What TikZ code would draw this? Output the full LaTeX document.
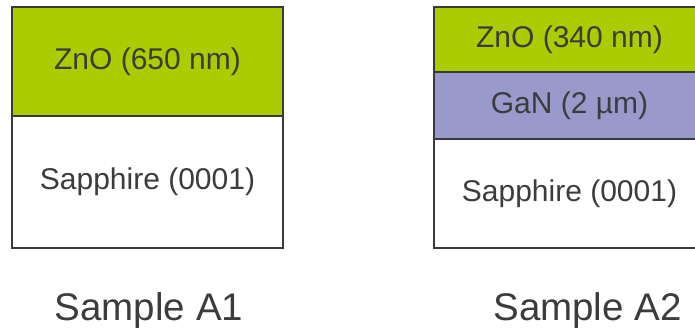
\documentclass[tikz,border=0pt]{standalone}
\usepackage{fontspec}
\setmainfont{Liberation Sans}
\definecolor{zno}{HTML}{AACC00}
\definecolor{gan}{HTML}{9999CC}
\definecolor{txt}{HTML}{3C3C3C}
\definecolor{edge}{HTML}{3A3A3A}
\begin{document}
\begin{tikzpicture}[x=1pt,y=1pt,
  layer/.style={draw=edge, line width=1.3pt, minimum width=271pt, inner sep=0pt, outer sep=0pt, text=txt, font=\fontsize{30}{30}\selectfont},
  caption/.style={anchor=base, text=txt, inner sep=0pt, font=\fontsize{38.5}{38.5}\selectfont}]
\useasboundingbox (0,0) rectangle (695,329);
\clip (0,0) rectangle (695,329);
% Sample A1
\node[layer, fill=white, minimum height=132pt] (sapA) at (147.5,147) {Sapphire (0001)};
\node[layer, fill=zno, minimum height=109pt] (znoA) at (147.5,267.5) {ZnO (650 nm)};
% Sample A2
\node[layer, fill=white, minimum height=109pt] (sapB) at (569.5,135.5) {Sapphire (0001)};
\node[layer, fill=gan, minimum height=67pt] (ganB) at (569.5,223.5) {GaN (2 µm)};
\node[layer, fill=zno, minimum height=65pt] (znoB) at (569.5,289.5) {ZnO (340 nm)};
% captions
\node[caption] (capA) at (149,9) {Sample A1};
\node[caption] (capB) at (587.5,9) {Sample A2};
\end{tikzpicture}
\end{document}
